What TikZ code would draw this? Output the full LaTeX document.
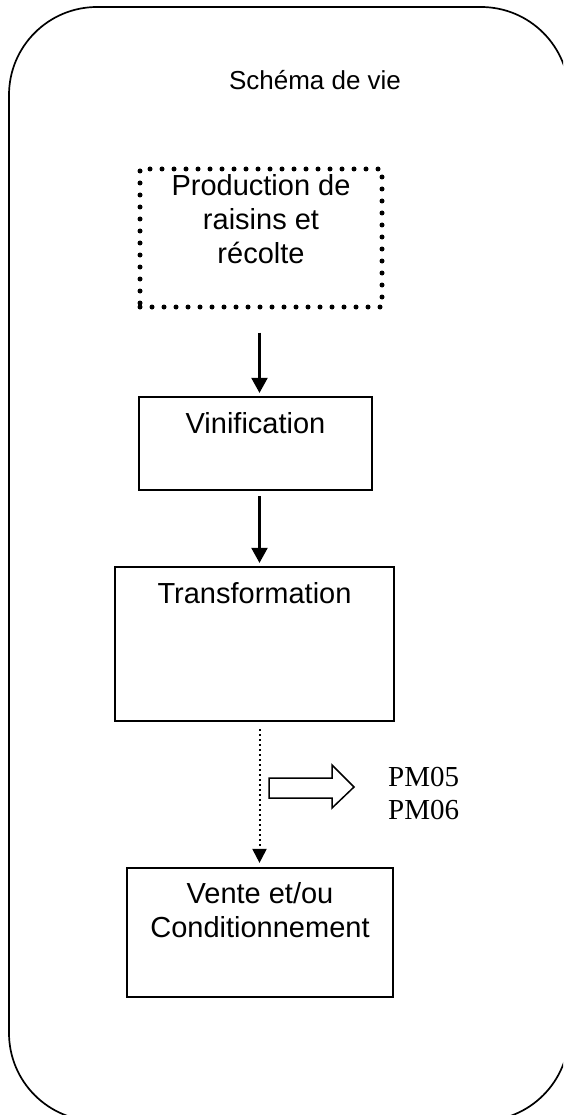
\documentclass[tikz,border=0pt]{standalone}
\usepackage{fontspec}
\setmainfont{Liberation Sans}
\newfontfamily\pmfont{Liberation Serif}
\usetikzlibrary{arrows.meta}
\usetikzlibrary{positioning}
\tikzset{stage/.style = {draw, line width = 2.2, inner sep = 0},
  dotbox/.style = {draw, line width = 5, line cap = round, dash pattern = on 0pt off 12pt, inner sep = 0},
  stagetext/.style = {anchor = base, align = center, inner sep = 0, font = \fontsize{29}{34}\selectfont},
  flow/.style = {line width = 2.2, -{Triangle[width = 16pt, length = 15pt]}},
  dotflow/.style = {line width = 2, dash pattern = on 2pt off 3pt, -{Triangle[width = 14pt, length = 14pt]}}}

\begin{document}
\begin{tikzpicture}[x = 1pt, y = 1pt]
      \useasboundingbox (0, 0) rectangle (563, -1115);
      \clip (0, 0) rectangle (563, -1115);
      \draw [line width = 1.7, rounded corners = 88] (9, -7) rectangle (569, -1121);
      \node (title) at (315, -90) [anchor = base, inner sep = 0, font = \fontsize{26}{30}\selectfont] {Schéma de vie};

      \node [dotbox, minimum width = 242, minimum height = 138] (prod) at (261, -238) {};
      \node [stagetext] (prodtext) at ([yshift = -97] prod.north) {Production de\\raisins et\\récolte};

      \node [stage, minimum width = 233, minimum height = 93] (vin) at (255.5, -443.5) {};
      \node [stagetext] (vintext) at ([yshift = -38] vin.north) {Vinification};

      \node [stage, minimum width = 279, minimum height = 154] (trans) at (254.5, -644) {};
      \node [stagetext] (transtext) at ([yshift = -38] trans.north) {Transformation};

      \node [stage, minimum width = 266, minimum height = 129] (vente) at (260, -932.5) {};
      \node [stagetext] (ventetext) at ([yshift = -71] vente.north) {Vente et/ou\\Conditionnement};

      \coordinate (axis) at (259.5, 0);
      \draw [flow, shorten <= 23, shorten >= 3] (axis |- prod.south) -- (axis |- vin.north);
      \draw [flow, shorten <= 5, shorten >= 3] (axis |- vin.south) -- (axis |- trans.north);
      \draw [dotflow, shorten <= 7, shorten >= 4] (axis |- trans.south) -- (axis |- vente.north);

      \draw [line width = 1.5, line join = miter] (269, -778) -- (332, -778) -- (332, -765) -- (354, -787)
        -- (332, -808) -- (332, -798) -- (269, -798) -- cycle;
      \node (pm) at (388, -819) [anchor = base west, align = left, inner sep = 0, font = \pmfont\fontsize{29}{33}\selectfont] {PM05\\PM06};
    \end{tikzpicture}
\end{document}
